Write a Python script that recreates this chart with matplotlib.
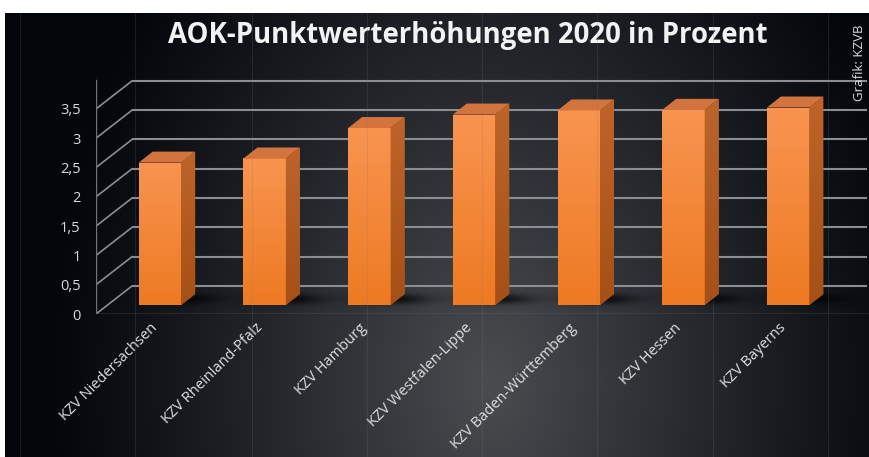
import numpy as np
import matplotlib
matplotlib.use("Agg")
import matplotlib.pyplot as plt
from matplotlib.patches import Polygon
import matplotlib.transforms as mtransforms

# ---------------- data ----------------
categories = ["KZV Niedersachsen", "KZV Rheinland-Pfalz", "KZV Hamburg",
              "KZV Westfalen-Lippe", "KZV Baden-Württemberg", "KZV Hessen",
              "KZV Bayerns"]
values = [2.43, 2.50, 3.02, 3.25, 3.32, 3.33, 3.37]
yticks = [0, 0.5, 1, 1.5, 2, 2.5, 3, 3.5]
ytick_labels = ["0", "0,5", "1", "1,5", "2", "2,5", "3", "3,5"]
title = "AOK-Punktwerterhöhungen 2020 in Prozent"
credit = "Grafik: KZVB"

plt.rcParams['font.family'] = ['Open Sans', 'DejaVu Sans']

W, H = 870, 457
fig = plt.figure(figsize=(W / 100, H / 100), dpi=100)
fig.patch.set_facecolor("white")

# ---------------- background gradient ----------------
bx0, btop = 5, 13
bg = fig.add_axes([bx0 / W, 0, 1 - bx0 / W, (H - btop) / H])
bg.set_axis_off()
gx = np.arange(bx0, W)
gy = np.arange(btop, H)
X, Y = np.meshgrid(gx, gy)
r = np.sqrt(((X - 490) / 440.0) ** 2 + ((Y - 380) / 620.0) ** 2)
t = np.clip(1 - r, 0, 1) ** 1.1
c_edge = np.array([3, 6, 11]) / 255.0
c_mid = np.array([74, 76, 80]) / 255.0
img = c_edge[None, None, :] + (c_mid - c_edge)[None, None, :] * t[..., None]
bg.imshow(img, extent=[0, 1, 0, 1], aspect="auto", origin="upper")
bg.set_xlim(0, 1)
bg.set_ylim(0, 1)

# faint spreadsheet cell lines
for cx in [20, 135, 252, 367, 482, 597, 713, 828]:
    fig.add_artist(plt.Line2D([cx / W, cx / W], [0, (H - btop) / H],
                              transform=fig.transFigure, color="#7a7a7a",
                              alpha=0.2, lw=0.7, zorder=50))

# ---------------- main axes (front plane) ----------------
XU = 104.7   # px per category
YU = 58.6    # px per unit value
left_px, right_px, bot_px, top_px = 96, 870, 314, 50
ax = fig.add_axes([left_px / W, (H - bot_px) / H,
                   (right_px - left_px) / W, (bot_px - top_px) / H])
ax.patch.set_alpha(0)
xmin = -0.5
xmax = -0.5 + (right_px - left_px) / XU
ax.set_xlim(xmin, xmax)
ax.set_ylim(0, (bot_px - top_px) / YU)
for s in ax.spines.values():
    s.set_visible(False)

wall_dx, wall_dy = 36 / XU, 28 / YU
fdx, fdy = 11.6 / XU, 9 / YU
bdx, bdy = 14 / XU, 11 / YU
bw = 42.5 / XU
grid_c = "#8a8d91"
back_right = -0.5 + (867 - left_px) / XU

# back wall gridlines + side wall slanted lines
for v in yticks:
    ax.plot([xmin + wall_dx, back_right], [v + wall_dy, v + wall_dy],
            color=grid_c, lw=1.5, zorder=1, solid_capstyle="butt")
    ax.plot([xmin, xmin + wall_dx], [v, v + wall_dy],
            color=grid_c, lw=1.2, zorder=1)
# front floor edge and vertical axis
ax.plot([xmin, xmax], [0, 0], color="#6f7276", lw=1.0, zorder=1)
ax.plot([xmin, xmin], [0, 4.0], color="#6f7276", lw=1.0, zorder=1)

# y tick labels
ax.set_yticks(yticks)
ax.set_yticklabels(ytick_labels)
ax.tick_params(axis="y", length=0, pad=11, labelsize=10.5, labelcolor="#dadada")
ax.set_xticks([])

xs = np.arange(len(categories))

# shadows
gxs = np.linspace(-1, 1, 80)
gys = np.linspace(-1, 1, 30)
GX, GY = np.meshgrid(gxs, gys)
shadow = np.zeros((30, 80, 4))
shadow[..., 3] = 0.75 * np.exp(-((GX / 0.5) ** 2 + (GY / 0.4) ** 2))
for x in xs:
    cx = x + fdx + bw / 2 + 4 / XU
    cy = fdy + 6 / YU
    ax.imshow(shadow, extent=[cx - 65 / XU, cx + 65 / XU, cy - 13 / YU, cy + 13 / YU],
              aspect="auto", zorder=2, interpolation="bilinear")

# front faces
bars = ax.bar(xs + fdx, values, width=bw, bottom=fdy, align="center",
              color="#f2842f", zorder=5, linewidth=0)
grad = np.linspace(0, 1, 100)[:, None]
c_top = np.array([248, 148, 80]) / 255.0
c_bot = np.array([238, 122, 34]) / 255.0
front_img = c_top[None, None, :] * (1 - grad[..., None]) + c_bot[None, None, :] * grad[..., None]
front_img = np.repeat(front_img, 2, axis=1)
for b, x, v in zip(bars, xs, values):
    x0 = x + fdx - bw / 2
    x1 = x0 + bw
    im = ax.imshow(front_img, extent=[x0, x1, fdy, fdy + v], aspect="auto",
                   zorder=6, interpolation="bilinear")
    im.set_clip_path(b)
    # top face
    top = Polygon([(x0, fdy + v), (x1, fdy + v), (x1 + bdx, fdy + v + bdy),
                   (x0 + bdx, fdy + v + bdy)], closed=True,
                  facecolor="#d3743e", edgecolor="none", zorder=6)
    ax.add_patch(top)
    # side face
    side = Polygon([(x1, fdy), (x1 + bdx, fdy + bdy), (x1 + bdx, fdy + v + bdy),
                    (x1, fdy + v)], closed=True, facecolor="#b55b21",
                   edgecolor="none", zorder=6)
    ax.add_patch(side)
    side_img = np.linspace(0, 1, 100)[:, None]
    cs_top = np.array([190, 100, 42]) / 255.0
    cs_bot = np.array([165, 80, 22]) / 255.0
    simg = cs_top[None, None, :] * (1 - side_img[..., None]) + cs_bot[None, None, :] * side_img[..., None]
    simg = np.repeat(simg, 2, axis=1)
    sim = ax.imshow(simg, extent=[x1, x1 + bdx, fdy, fdy + v + bdy], aspect="auto",
                    zorder=7, interpolation="bilinear")
    sim.set_clip_path(side)

# category labels (rotated)
for x, lab in zip(xs, categories):
    trans = ax.transData + mtransforms.ScaledTranslation(7 / 100, -12 / 100, fig.dpi_scale_trans)
    ax.text(x, 0, lab, rotation=45, ha="right", va="center",
            rotation_mode="anchor", transform=trans, color="#e0e0e0",
            fontsize=10.5)

ax.set_xlim(xmin, xmax)
ax.set_ylim(0, (bot_px - top_px) / YU)

# title and credit
fig.text(468 / W, 1 - 35 / H, title, ha="center", va="center",
         color="#f2f2f2", fontsize=19.8, fontweight="bold")
fig.text(860 / W, 1 - 63 / H, credit, ha="center", va="center",
         rotation=90, color="#dcdcdc", fontsize=9.5)

fig.savefig("out.png", dpi=100)
